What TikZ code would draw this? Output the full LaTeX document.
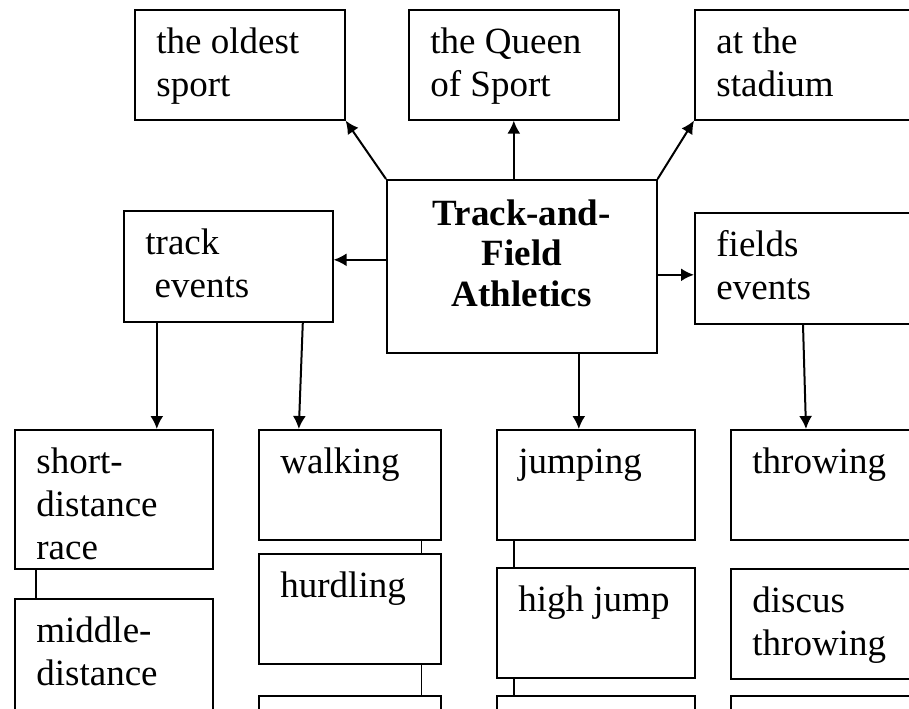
\documentclass[tikz,border=0pt]{standalone}
\usepackage{fontspec}
\setmainfont{Liberation Serif}
\usetikzlibrary{arrows.meta}

\begin{document}
\begin{tikzpicture}[x=0.5pt,y=-0.5pt,
        cell/.style={draw,line width=0.8pt,anchor=north west,inner sep=0pt,minimum height=55pt},
        txt/.style={anchor=base west,xshift=11pt,yshift=-22pt,inner sep=0pt,text width=90pt,align=flush left,
            font=\fontsize{18.5pt}{21.5pt}\selectfont},
        mid/.style={anchor=base,yshift=-23pt,inner sep=0pt,text width=130pt,align=flush center,
            font=\bfseries\fontsize{18.5pt}{20.25pt}\selectfont},
        arr/.style={-{Latex[length=6.5pt,width=6.5pt]},line width=1pt},
        link/.style={line width=0.7pt}]
            \useasboundingbox (0,0) rectangle (909,708);
            \clip (0,0) rectangle (909,708);
            % top row
            \node[cell,minimum width=105pt,label={[txt]north west:the oldest\\sport}] (oldest) at (134,9) {};
            \node[cell,minimum width=105pt,label={[txt]north west:the Queen\\of Sport}] (queen) at (408,9) {};
            \node[cell,minimum width=115.5pt,label={[txt]north west:at the\\stadium}] (stadium) at (694,9) {};
            % middle row
            \node[cell,minimum width=135pt,minimum height=86.5pt,label={[mid]north:Track-and-\\Field\\Athletics}] (tf) at (386,179) {};
            \node[cell,minimum width=104.5pt,minimum height=55.5pt,label={[txt]north west:track\\\ events}] (track) at (123,210) {};
            \node[cell,minimum width=115.5pt,minimum height=55.5pt,label={[txt]north west:fields\\events}] (fields) at (694,212) {};
            % bottom columns
            \node[cell,minimum width=99pt,minimum height=69.5pt,label={[txt]north west:short-\\distance\\race}] (short) at (14,429) {};
            \node[cell,minimum width=99pt,minimum height=101pt,label={[txt]north west:middle-\\distance}] (middle) at (14,598) {};
            \node[cell,minimum width=91pt,label={[txt]north west:walking}] (walking) at (258,429) {};
            \node[cell,minimum width=91pt,label={[txt]north west:hurdling}] (hurdling) at (258,553) {};
            \node[cell,minimum width=91pt] (walkrest) at (258,695) {};
            \node[cell,minimum width=99pt,label={[txt]north west:jumping}] (jumping) at (496,429) {};
            \node[cell,minimum width=99pt,label={[txt]north west:high jump}] (highjump) at (496,567) {};
            \node[cell,minimum width=99pt] (jumprest) at (496,695) {};
            \node[cell,minimum width=97.5pt,label={[txt]north west:throwing}] (throwing) at (730,429) {};
            \node[cell,minimum width=97.5pt,label={[txt]north west:discus\\throwing}] (discus) at (730,568) {};
            \node[cell,minimum width=97.5pt] (throwrest) at (730,695) {};
            % arrows
            \draw[arr] (tf.north -| queen.south) -- (queen.south);
            \draw[arr] (tf.north west) -- (oldest.south east);
            \draw[arr] (tf.north east) -- (stadium.south west);
            \draw[arr] ([yshift=3.25pt]tf.west) -- ([yshift=3.25pt]track.east);
            \draw[arr] ([yshift=-4.25pt]tf.east) -- ([yshift=-3.25pt]fields.west);
            \draw[arr] ([xshift=-35.75pt]track.south) -- ([xshift=21.5pt]short.north);
            \draw[arr] ([xshift=37.25pt]track.south) -- ([xshift=-25.5pt]walking.north);
            \draw[arr] ([xshift=28.5pt]tf.south) -- ([xshift=-8.5pt]jumping.north);
            \draw[arr] ([xshift=54.5pt]fields.south west) -- ([xshift=38pt]throwing.north west);
            % links
            \draw[link] ([xshift=11pt]short.south west) -- ([xshift=11pt]middle.north west);
            \draw[link] ([xshift=-10pt]walking.south east) -- ([xshift=-10pt]hurdling.north east);
            \draw[link] ([xshift=-10pt]hurdling.south east) -- ([xshift=-10pt]walkrest.north east);
            \draw[link] ([xshift=9pt]jumping.south west) -- ([xshift=9pt]highjump.north west);
            \draw[link] ([xshift=9pt]highjump.south west) -- ([xshift=9pt]jumprest.north west);
        \end{tikzpicture}
\end{document}
